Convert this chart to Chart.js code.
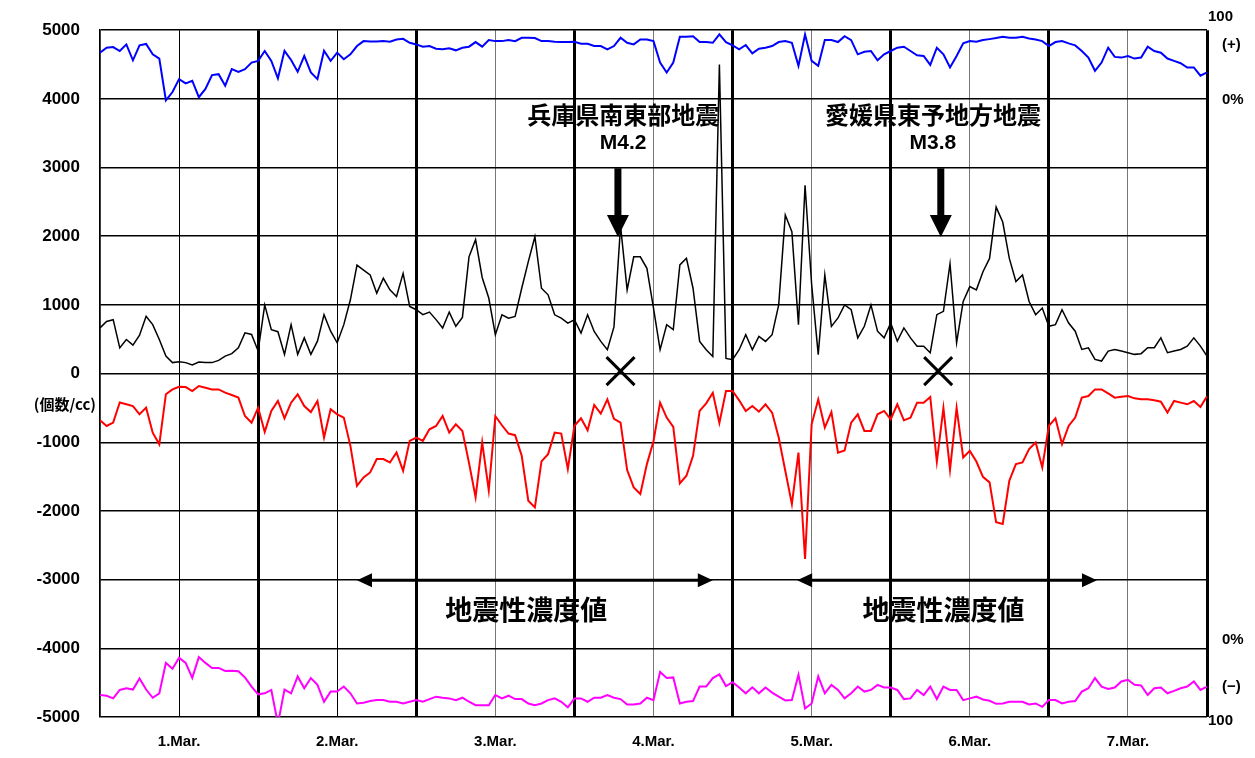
<!DOCTYPE html>
<html>
<head>
<meta charset="utf-8">
<script src="https://cdn.jsdelivr.net/npm/chart.js@4.4.0/dist/chart.umd.min.js"></script>
<style>
  html, body { margin: 0; padding: 0; background: #fff; }
  #wrap { width: 1255px; height: 758px; }
</style>
</head>
<body>
<div id="wrap"><canvas id="myChart"></canvas></div>

<script>
// hourly readings, 1.Mar 0:00 (hour 0) .. 8.Mar 0:00 (hour 168)
var dayLabels = ["1.Mar.", "2.Mar.", "3.Mar.", "4.Mar.", "5.Mar.", "6.Mar.", "7.Mar."];

var blue = [4673,4745,4755,4697,4793,4562,4779,4800,4650,4587,3980,4100,4288,4226,4264,4024,4144,4346,4360,4192,4433,4394,4433,4529,
 4553,4697,4553,4300,4700,4567,4394,4625,4385,4288,4700,4553,4673,4577,4649,4769,4841,4837,4837,4841,4832,4865,4875,4817,
 4793,4760,4769,4731,4721,4736,4707,4745,4760,4827,4760,4856,4841,4841,4856,4841,4889,4889,4885,4841,4841,4832,4827,4827,
 4832,4803,4803,4769,4769,4721,4769,4890,4817,4793,4865,4865,4841,4529,4385,4529,4904,4904,4913,4827,4827,4817,4940,4827,
 4779,4721,4784,4663,4731,4745,4769,4827,4841,4817,4481,4937,4553,4481,4856,4856,4827,4913,4856,4649,4687,4697,4562,4649,
 4697,4745,4760,4697,4635,4625,4495,4745,4649,4457,4625,4808,4841,4832,4856,4870,4885,4904,4889,4889,4904,4880,4865,4841,
 4769,4827,4841,4808,4779,4697,4601,4409,4529,4745,4611,4601,4625,4587,4601,4760,4697,4673,4587,4553,4519,4457,4457,4337,
 4385];

var black = [665,760,785,375,496,414,560,834,713,496,255,160,173,160,125,168,160,160,193,255,290,375,593,570,
 330,1000,640,610,280,713,280,520,280,472,858,617,448,713,1075,1580,1508,1436,1171,1388,1219,1123,1460,978,
 930,858,896,786,665,896,689,819,1700,1950,1400,1100,566,856,808,832,1243,1630,1993,1243,1147,856,808,735,
 784,590,856,614,469,348,680,2150,1219,1700,1700,1533,953,348,711,639,1582,1679,1243,469,348,250,4500,220,
 203,348,566,348,542,469,566,1001,2308,2066,711,2743,1300,276,1437,687,810,1000,930,520,689,1000,617,520,
 737,472,665,520,400,400,304,858,906,1600,450,1050,1267,1219,1484,1677,2424,2207,1677,1340,1436,1050,858,954,
 689,713,930,737,617,352,376,207,183,328,352,328,304,280,290,376,376,520,304,328,352,400,520,400,
 255];

var red = [-680,-762,-714,-420,-447,-472,-593,-496,-860,-1030,-300,-230,-191,-196,-254,-181,-206,-230,-230,-278,-312,-350,-617,-714,
 -496,-849,-544,-399,-650,-423,-302,-472,-560,-400,-931,-520,-593,-641,-1052,-1633,-1512,-1439,-1245,-1245,-1294,-1149,-1415,-979,
 -931,-979,-810,-762,-617,-859,-738,-835,-1300,-1800,-1000,-1700,-620,-752,-873,-897,-1197,-1850,-1948,-1279,-1173,-859,-873,-1390,
 -760,-651,-825,-457,-583,-375,-660,-714,-1405,-1657,-1754,-1318,-984,-423,-641,-776,-1599,-1487,-1197,-544,-433,-280,-720,-254,
 -254,-389,-544,-472,-554,-447,-568,-931,-1415,-1900,-1150,-2700,-738,-375,-786,-560,-1150,-1120,-714,-593,-835,-835,-593,-544,
 -665,-447,-680,-641,-423,-423,-341,-1280,-500,-1400,-500,-1222,-1125,-1280,-1503,-1584,-2165,-2189,-1560,-1318,-1294,-1100,-1004,-1366,
 -762,-651,-1028,-762,-641,-350,-326,-230,-230,-288,-350,-336,-326,-360,-375,-375,-389,-409,-568,-399,-423,-447,-399,-486,
 -331];

var magenta = [-4680,-4690,-4729,-4606,-4581,-4600,-4440,-4600,-4720,-4655,-4212,-4296,-4138,-4212,-4430,-4128,-4212,-4286,-4286,-4330,-4325,-4335,-4424,-4557,
 -4670,-4655,-4606,-5100,-4600,-4655,-4409,-4581,-4433,-4532,-4778,-4630,-4630,-4557,-4655,-4803,-4793,-4768,-4754,-4754,-4778,-4778,-4803,-4778,
 -4754,-4778,-4739,-4704,-4719,-4729,-4754,-4719,-4778,-4828,-4828,-4828,-4680,-4729,-4690,-4739,-4739,-4803,-4828,-4803,-4754,-4729,-4778,-4860,
 -4729,-4729,-4778,-4719,-4719,-4680,-4719,-4739,-4818,-4818,-4803,-4719,-4754,-4345,-4433,-4424,-4803,-4778,-4768,-4557,-4557,-4433,-4380,-4550,
 -4493,-4571,-4655,-4567,-4655,-4571,-4645,-4704,-4759,-4754,-4384,-4877,-4803,-4409,-4655,-4532,-4606,-4729,-4655,-4557,-4630,-4606,-4532,-4571,
 -4571,-4606,-4739,-4729,-4606,-4680,-4557,-4739,-4557,-4606,-4606,-4754,-4729,-4704,-4744,-4764,-4808,-4803,-4778,-4778,-4778,-4818,-4803,-4852,
 -4754,-4754,-4803,-4778,-4768,-4630,-4581,-4433,-4557,-4591,-4571,-4483,-4458,-4532,-4542,-4680,-4581,-4571,-4655,-4620,-4581,-4557,-4483,-4606,
 -4557];

var hours = black.map(function (v, i) { return i; });

// earthquake marks
var quakeNames = ["兵庫県南東部地震", "愛媛県東予地方地震"];
var quakeMags = ["M4.2", "M3.8"];
var quakeTextHour = [79.4, 126.4];
var quakeArrowHour = [78.6, 127.6];
var quakeCrossHour = [79.0, 127.2];

// 地震性濃度値 periods (hours)
var bandStart = [39, 105.8];
var bandEnd = [93, 151.3];
var bandTextHour = [64.7, 128.0];
var bandLabel = "地震性濃度値";

var rightLabels = ["100", "(+)", "0%", "0%", "(−)", "100"];
var rightLabelValues = [5200, 4780, 3980, -3880, -4560, -5050];

function series(vals) {
  return vals.map(function (v, i) { return { x: hours[i], y: v }; });
}

var numFont = "'Liberation Sans', Arial, sans-serif";
var jpFont = "'Noto Sans CJK JP', 'Liberation Sans', sans-serif";

var annotate = {
  id: "annotate",
  afterDatasetsDraw: function (chart) {
    var ctx = chart.ctx, x = chart.scales.x, y = chart.scales.y;
    ctx.save();
    ctx.fillStyle = "#000";
    ctx.strokeStyle = "#000";

    for (var i = 0; i < quakeNames.length; i++) {
      var tx = x.getPixelForValue(quakeTextHour[i]);
      ctx.textAlign = "center";
      ctx.textBaseline = "middle";
      ctx.font = "bold 24px " + jpFont;
      ctx.fillText(quakeNames[i], tx, y.getPixelForValue(3760));
      ctx.font = "bold 21px " + numFont;
      ctx.fillText(quakeMags[i], tx, y.getPixelForValue(3350));

      // down arrow
      var ax = x.getPixelForValue(quakeArrowHour[i]);
      var top = y.getPixelForValue(2990), tip = y.getPixelForValue(1990);
      ctx.fillRect(ax - 3.5, top, 7, tip - top - 18);
      ctx.beginPath();
      ctx.moveTo(ax - 11, tip - 22);
      ctx.lineTo(ax + 11, tip - 22);
      ctx.lineTo(ax, tip);
      ctx.closePath();
      ctx.fill();

      // cross
      var cx = x.getPixelForValue(quakeCrossHour[i]), cy = y.getPixelForValue(36);
      ctx.lineWidth = 3;
      ctx.beginPath();
      ctx.moveTo(cx - 14, cy - 14); ctx.lineTo(cx + 14, cy + 14);
      ctx.moveTo(cx + 14, cy - 14); ctx.lineTo(cx - 14, cy + 14);
      ctx.stroke();
    }

    // double arrows
    for (var j = 0; j < bandStart.length; j++) {
      var x1 = x.getPixelForValue(bandStart[j]), x2 = x.getPixelForValue(bandEnd[j]);
      var ly = y.getPixelForValue(-3010);
      ctx.lineWidth = 3;
      ctx.beginPath();
      ctx.moveTo(x1 + 10, ly); ctx.lineTo(x2 - 10, ly);
      ctx.stroke();
      ctx.beginPath();
      ctx.moveTo(x1, ly); ctx.lineTo(x1 + 15, ly - 7); ctx.lineTo(x1 + 15, ly + 7); ctx.closePath();
      ctx.moveTo(x2, ly); ctx.lineTo(x2 - 15, ly - 7); ctx.lineTo(x2 - 15, ly + 7); ctx.closePath();
      ctx.fill();
      ctx.font = "bold 27px " + jpFont;
      ctx.textAlign = "center";
      ctx.textBaseline = "middle";
      ctx.fillText(bandLabel, x.getPixelForValue(bandTextHour[j]), y.getPixelForValue(-3440));
    }

    // unit label on the left
    ctx.font = "bold 15px " + jpFont;
    ctx.textAlign = "right";
    ctx.fillText("(個数/cc)", chart.chartArea.left - 4, y.getPixelForValue(-450));

    // right-side percent labels
    ctx.font = "bold 15px " + numFont;
    ctx.textAlign = "left";
    for (var k = 0; k < rightLabels.length; k++) {
      var lx = (rightLabels[k] === "100") ? chart.chartArea.right + 1 : chart.chartArea.right + 15;
      ctx.fillText(rightLabels[k], lx, y.getPixelForValue(rightLabelValues[k]));
    }
    ctx.restore();
  }
};

new Chart("myChart", {
  type: "line",
  data: {
    datasets: [
      { data: series(blue), borderColor: "#0000ff", borderWidth: 2 },
      { data: series(black), borderColor: "#000000", borderWidth: 1.5 },
      { data: series(red), borderColor: "#ff0000", borderWidth: 2 },
      { data: series(magenta), borderColor: "#ff00ff", borderWidth: 2 }
    ]
  },
  options: {
    responsive: true,
    maintainAspectRatio: false,
    animation: false,
    elements: { point: { radius: 0 }, line: { tension: 0 } },
    layout: { padding: { top: 28, right: 48, left: 0, bottom: 0 } },
    plugins: { legend: { display: false }, tooltip: { enabled: false } },
    scales: {
      x: {
        type: "linear",
        min: 0,
        max: 168,
        afterFit: function (s) { s.height = 41; },
        ticks: {
          stepSize: 12,
          autoSkip: false,
          maxRotation: 0,
          padding: 16,
          color: "#000",
          font: { family: numFont, size: 15, weight: "bold" },
          callback: function (v) { return (v % 24 === 12) ? dayLabels[(v - 12) / 24] : ""; }
        },
        grid: {
          drawTicks: false,
          color: function (c) {
            var v = c.tick.value;
            if (v % 24 === 0) return "#000";
            return v < 48 ? "#000" : "#777";
          },
          lineWidth: function (c) {
            var v = c.tick.value;
            if (v === 0) return 1.5;
            return (v % 24 === 0) ? 3 : 1;
          }
        },
        border: { display: false }
      },
      y: {
        min: -5000,
        max: 5000,
        afterFit: function (s) { s.width = 100; },
        ticks: {
          stepSize: 1000,
          padding: 20,
          color: "#000",
          font: { family: numFont, size: 17, weight: "bold" },
          callback: function (v) { return String(v); }
        },
        grid: { drawTicks: false, color: "#000", lineWidth: 1.5 },
        border: { color: "#000", width: 1.5 }
      }
    }
  },
  plugins: [annotate]
});
</script>
</body>
</html>
